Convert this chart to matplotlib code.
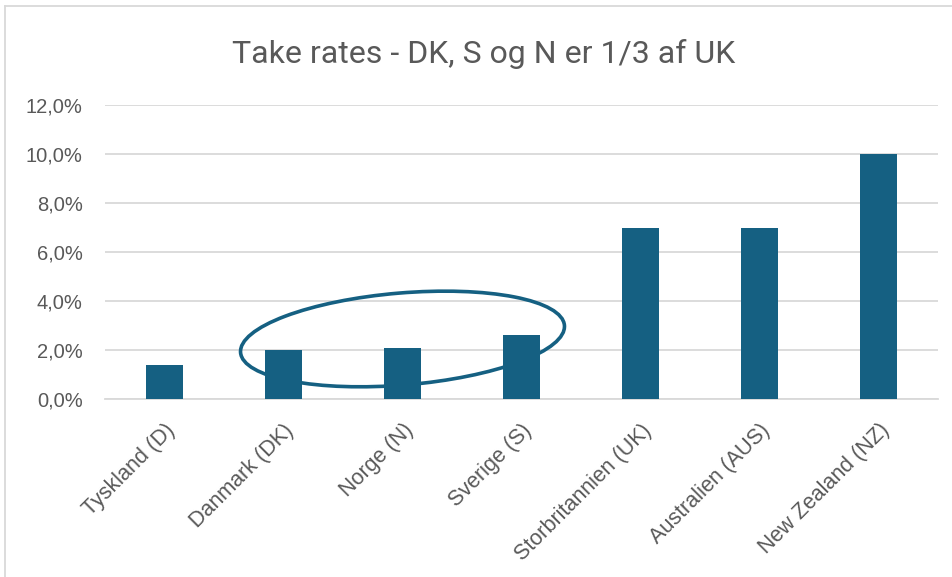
import matplotlib
matplotlib.use("Agg")
import matplotlib.pyplot as plt
from matplotlib.patches import Ellipse
from matplotlib.lines import Line2D
from matplotlib.transforms import IdentityTransform
from matplotlib.ticker import FuncFormatter
import matplotlib.font_manager as fm

categories = ["Tyskland (D)", "Danmark (DK)", "Norge (N)", "Sverige (S)",
              "Storbritannien (UK)", "Australien (AUS)", "New Zealand (NZ)"]
values = [1.4, 2.0, 2.1, 2.6, 7.0, 7.0, 10.0]
yticks = [0, 2, 4, 6, 8, 10, 12]
title = "Take rates - DK, S og N er 1/3 af UK"

names = {f.name for f in fm.fontManager.ttflist}
narrow = "Liberation Sans Narrow" if "Liberation Sans Narrow" in names else "Roboto"
base = "Liberation Sans"

W, H = 953, 577
fig = plt.figure(figsize=(W / 100, H / 100), dpi=100)
ax = fig.add_axes([105 / W, 1 - 399 / H, (938 - 105) / W, (399 - 105) / H])

bar_color = "#156082"
x = list(range(len(categories)))
ax.bar(x, values, width=0.31, color=bar_color, zorder=3)
ax.set_xlim(-0.5, len(categories) - 0.5)
ax.set_ylim(0, 12)
ax.set_yticks(yticks)
ax.yaxis.set_major_formatter(FuncFormatter(lambda v, p: f"{v:.1f}".replace(".", ",") + "%"))
ax.grid(axis="y", color="#d9d9d9", linewidth=1.3, zorder=0)
for s in ["top", "right", "left"]:
    ax.spines[s].set_visible(False)
ax.spines["bottom"].set_color("#d9d9d9")
ax.spines["bottom"].set_linewidth(1.3)
ax.tick_params(axis="y", length=0, pad=16, labelsize=14.5, labelcolor="#595959")
ax.tick_params(axis="x", length=0, pad=15)
ax.set_xticks(x)
ax.set_xticklabels(categories, rotation=45, ha="right", va="top",
                   rotation_mode="anchor", fontsize=15.5, color="#595959", family=base)
for lbl in ax.get_yticklabels():
    lbl.set_family(base)

fig.text(484 / W, 1 - 63 / H, title, ha="center", va="baseline",
         fontsize=23, color="#595959", family=narrow)

# highlight ellipse around DK, N, S
fig.canvas.draw()
cx, cy = ax.transData.transform((2.0, 2.45))
ell = Ellipse((cx, cy), 325, 92, angle=4.8, fill=False, edgecolor=bar_color,
              linewidth=2.6, transform=IdentityTransform(), zorder=5)
fig.add_artist(ell)

# chart border (left and top)
fig.add_artist(Line2D([5.5 / W, 5.5 / W], [0, 1 - 5.5 / H], transform=fig.transFigure,
                      color="#d9d9d9", linewidth=1.3))
fig.add_artist(Line2D([5.5 / W, 1], [1 - 5.5 / H, 1 - 5.5 / H], transform=fig.transFigure,
                      color="#d9d9d9", linewidth=1.3))

fig.savefig("out.png", dpi=100)
